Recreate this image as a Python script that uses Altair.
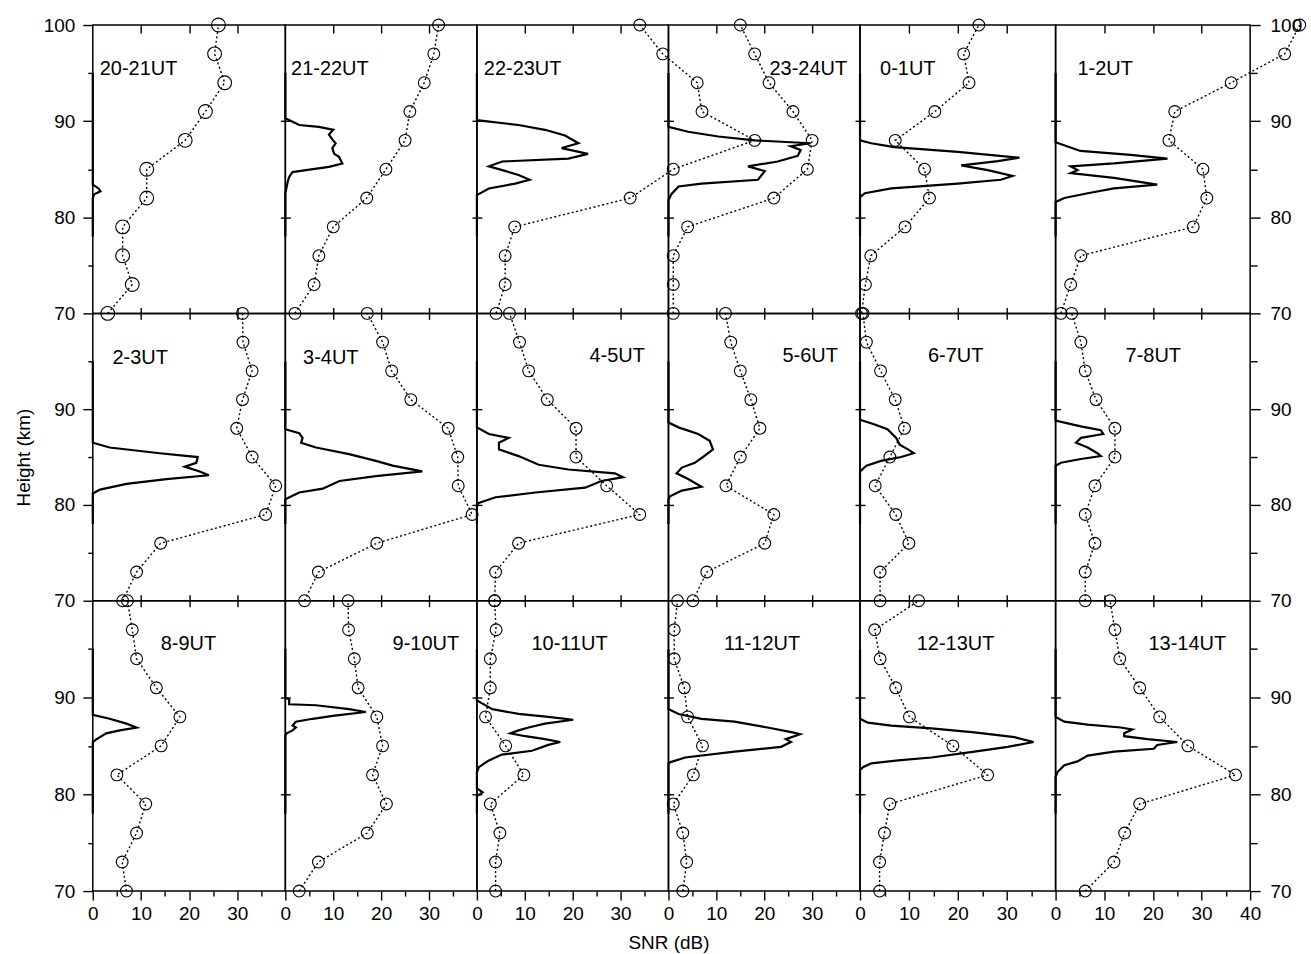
import altair as alt
import pandas as pd

# ---------------- data ----------------
PANELS = ["20-21UT", "21-22UT", "22-23UT", "23-24UT", "0-1UT", "1-2UT",
          "2-3UT", "3-4UT", "4-5UT", "5-6UT", "6-7UT", "7-8UT",
          "8-9UT", "9-10UT", "10-11UT", "11-12UT", "12-13UT", "13-14UT"]

# heights of the circle (dotted) profiles, km
HEIGHTS = [70, 73, 76, 79, 82, 85, 88, 91, 94, 97, 100]

# dotted/circle profiles (value at each height in HEIGHTS)
DOT_20_21 = [3.1, 8.2, 6.2, 6.2, 11.2, 11.2, 19.2, 23.4, 27.4, 25.3, 26.1]
DOT_21_22 = [2.0, 6.0, 7.0, 10.0, 17.0, 21.0, 25.0, 26.0, 29.0, 31.0, 32.0]
DOT_22_23 = [4.0, 5.9, 5.9, 7.9, 32.0, 41.0, 58.0, 47.0, 46.0, 38.8, 34.0]
DOT_23_24 = [1.0, 1.0, 1.0, 4.0, 22.0, 29.0, 30.0, 26.0, 21.0, 18.0, 15.0]
DOT_0_1 = [0.3, 1.1, 2.2, 9.2, 14.2, 13.2, 7.2, 15.3, 22.3, 21.2, 24.3]
DOT_1_2 = [1.1, 3.1, 5.2, 28.3, 31.1, 30.3, 23.3, 24.5, 36.1, 47.1, 50.2]
DOT_2_3 = [6.2, 9.1, 14.1, 35.9, 38.0, 33.1, 29.9, 31.1, 33.1, 31.2, 31.1]
DOT_3_4 = [4.0, 6.9, 19.1, 39.0, 36.1, 36.0, 34.0, 26.2, 22.2, 20.3, 17.1]
DOT_4_5 = [3.7, 3.9, 8.7, 34.0, 27.1, 20.7, 20.7, 14.7, 10.8, 8.9, 6.8]
DOT_5_6 = [5.1, 8.0, 20.1, 22.0, 12.0, 15.0, 19.1, 17.2, 15.0, 13.0, 11.9]
DOT_6_7 = [4.1, 4.1, 10.0, 7.3, 3.1, 6.1, 9.1, 7.2, 4.2, 1.3, 0.6]
DOT_7_8 = [6.1, 6.1, 8.1, 6.1, 8.1, 12.2, 12.2, 8.3, 6.1, 5.2, 3.3]
DOT_8_9 = [7.0, 6.1, 9.1, 11.0, 5.0, 14.2, 18.1, 13.2, 9.1, 8.2, 7.2]
DOT_9_10 = [2.9, 6.9, 17.1, 21.1, 18.2, 20.3, 19.1, 15.2, 14.4, 13.2, 13.1]
DOT_10_11 = [3.9, 3.9, 4.8, 2.8, 9.8, 6.0, 1.8, 2.8, 2.8, 4.0, 3.7]
DOT_11_12 = [3.0, 3.8, 3.0, 1.0, 5.2, 7.1, 4.0, 3.3, 1.2, 1.2, 1.9]
DOT_12_13 = [4.0, 4.0, 5.0, 6.1, 26.1, 19.0, 10.1, 7.3, 4.1, 3.0, 12.0]
DOT_13_14 = [6.1, 12.0, 14.2, 17.3, 37.0, 27.2, 21.4, 17.3, 13.2, 12.2, 11.2]

# solid SNR profiles: (height km, SNR dB)
SNR_20_21 = [(95, 0), (83.4, 0), (83.0, 1.2), (82.7, 1.6), (82.4, 0.3), (82.0, 0), (78, 0)]
SNR_21_22 = [(95, 0), (90.3, 0), (89.6, 2.9), (89.4, 7), (89.1, 10), (88.6, 9.1), (88.1, 9.8),
             (87.7, 10.5), (87.2, 9.8), (86.6, 10.2), (86.3, 11.2), (85.6, 11.9), (85.25, 9.1),
             (84.9, 4.3), (84.7, 1.5), (84.2, 0.8), (83.7, 0.5), (83.0, 0.2), (82.5, 0), (78, 0)]
SNR_22_23 = [(95, 0), (90.1, 0), (89.6, 8.7), (89.1, 14.2), (88.5, 18.4), (87.7, 21.2), (87.2, 17.7),
             (86.6, 23.2), (86.1, 19.1), (85.8, 5.3), (85.3, 2.5), (84.9, 5.3), (84.4, 8.7),
             (83.9, 11.0), (83.5, 8.0), (83.0, 2.5), (82.3, 0), (78, 0)]
SNR_23_24 = [(95, 0), (89.4, 0), (88.9, 4.1), (88.4, 10.4), (88.0, 18), (87.7, 29.7), (87.4, 25.5),
             (87.0, 27.6), (86.4, 27), (85.8, 22.8), (85.3, 16.6), (84.8, 20.1), (83.9, 18.7),
             (83.5, 6.9), (83.2, 2.1), (82.4, 0.6), (81.8, 0), (78, 0)]
SNR_0_1 = [(95, 0), (88.0, 0), (87.7, 2.3), (87.3, 7.0), (86.8, 20), (86.2, 32.6), (85.85, 28.2),
           (85.4, 20.7), (84.9, 26.1), (84.3, 31.2), (83.9, 28.8), (83.5, 20), (83.0, 6.4),
           (82.5, 1), (82.1, 0), (78, 0)]
SNR_1_2 = [(95, 0), (87.8, 0), (86.9, 5.1), (86.5, 15.4), (86.1, 23), (85.6, 12), (85.3, 3.1),
           (84.9, 4.5), (84.6, 3.1), (84.1, 12), (83.4, 20.9), (83.0, 12), (82.5, 6.6), (82.0, 1.8),
           (81.6, 0), (78, 0)]
SNR_2_3 = [(95, 0), (86.5, 0), (86.0, 3.5), (85.4, 13.9), (85.0, 21.8), (84.4, 21.5), (84.0, 19.1),
           (83.5, 22.2), (83.1, 24.1), (82.7, 15.3), (82.2, 7), (81.6, 1.5), (81.2, 0), (78, 0)]
SNR_3_4 = [(95, 0), (87.9, 0), (87.5, 2.9), (87.0, 3.6), (86.5, 3.3), (86.0, 6.4), (85.3, 13.3),
           (84.6, 18.9), (84.1, 22.4), (83.5, 28.6), (83.0, 18.9), (82.5, 11.3), (81.7, 7.8),
           (81.3, 2.9), (80.6, 0), (78, 0)]
SNR_4_5 = [(95, 0), (88.1, 0), (87.4, 2.5), (87.0, 6.6), (86.5, 4.6), (85.8, 4.6), (85.1, 8.7),
           (84.2, 12.9), (83.7, 19.1), (83.3, 28.8), (82.9, 30.5), (82.5, 26), (81.8, 22.6),
           (81.3, 12.2), (80.8, 3.9), (80.2, 0.4), (80.0, 0), (78, 0)]
SNR_5_6 = [(95, 0), (88.6, 0), (88.1, 2.1), (87.4, 6.2), (86.7, 8.6), (85.8, 9.3), (84.9, 6.9),
           (84.4, 5.5), (83.9, 2.8), (83.3, 1.7), (82.7, 4.1), (81.9, 6.9), (81.5, 2.8),
           (80.9, 0.3), (80.6, 0), (78, 0)]
SNR_6_7 = [(95, 0), (88.9, 0), (88.4, 3), (87.9, 5.6), (87.0, 7.4), (86.3, 8.1), (85.8, 9.8),
           (85.4, 11), (85.0, 8.4), (84.6, 4.3), (84.1, 1.3), (83.5, 0), (78, 0)]
SNR_7_8 = [(95, 0), (88.8, 0), (88.2, 5.2), (87.8, 9.3), (87.4, 9.8), (87.0, 5.2), (86.5, 4.2),
           (86.0, 6.6), (85.4, 8.6), (85.1, 9.3), (84.8, 5.2), (84.4, 1.1), (84.1, 0), (78, 0)]
SNR_8_9 = [(95, 0), (88.2, 0), (87.8, 3.5), (87.3, 7), (86.9, 9.1), (86.6, 5.6), (86.3, 2.8),
           (85.7, 0.8), (85.4, 0), (78, 0)]
SNR_9_10 = [(95, 0), (90.0, 0), (89.8, 0.8), (89.3, 0.8), (89.2, 6.4), (88.8, 13.3), (88.5, 16.8),
            (88.1, 9.9), (87.8, 5.7), (87.5, 2.2), (87.1, 1.5), (86.9, 2.2), (86.6, 1.5),
            (86.3, 0.3), (86.1, 0), (78, 0)]
SNR_10_11 = [(95, 0), (89.7, 0), (88.8, 3.2), (88.3, 8.7), (88.0, 14.9), (87.7, 20.1), (87.3, 14.2),
             (86.9, 10.8), (86.6, 8.7), (86.3, 7), (86.0, 10.1), (85.7, 14.2), (85.4, 17.4),
             (85.1, 14.9), (84.5, 11.5), (84.1, 5.2), (83.5, 2.5), (82.8, 0.4), (82.3, 0),
             (80.6, 0), (80.2, 1.2), (79.8, 0), (78, 0)]
SNR_11_12 = [(95, 0), (88.8, 0), (88.3, 2.1), (87.8, 6.9), (87.5, 13.8), (86.9, 20.7), (86.4, 25.9),
             (86.2, 27.5), (85.7, 24.5), (85.4, 25.6), (84.9, 23.5), (84.4, 13.8), (83.8, 3.5),
             (83.3, 0.3), (83.2, 0), (78, 0)]
SNR_12_13 = [(95, 0), (87.8, 0), (87.4, 1.6), (87.1, 6.4), (86.8, 14.6), (86.4, 23.4), (85.9, 31.6),
             (85.4, 35.5), (84.9, 30.2), (84.4, 23.4), (83.8, 14.6), (83.5, 7.8), (83.2, 2.3),
             (82.8, 0.6), (82.5, 0), (78, 0)]
SNR_13_14 = [(95, 0), (88.0, 0), (87.5, 1.8), (87.2, 6.6), (86.9, 13.4), (86.7, 15.8), (86.3, 14.1),
             (86.0, 14.1), (85.7, 18.9), (85.4, 25), (85.1, 20.9), (84.7, 20.2), (84.4, 12),
             (84.0, 6.6), (83.4, 4.5), (83.0, 1.8), (82.3, 0.4), (81.8, 0), (78, 0)]

DOTS = [DOT_20_21, DOT_21_22, DOT_22_23, DOT_23_24, DOT_0_1, DOT_1_2,
        DOT_2_3, DOT_3_4, DOT_4_5, DOT_5_6, DOT_6_7, DOT_7_8,
        DOT_8_9, DOT_9_10, DOT_10_11, DOT_11_12, DOT_12_13, DOT_13_14]
SNRS = [SNR_20_21, SNR_21_22, SNR_22_23, SNR_23_24, SNR_0_1, SNR_1_2,
        SNR_2_3, SNR_3_4, SNR_4_5, SNR_5_6, SNR_6_7, SNR_7_8,
        SNR_8_9, SNR_9_10, SNR_10_11, SNR_11_12, SNR_12_13, SNR_13_14]

# panel label anchors (data units: SNR, km)
LABEL_X = [1.45, 1.2, 1.45, 21.1, 4.1, 4.5,
           4.1, 3.7, 23.5, 23.8, 13.9, 14.4,
           14.1, 22.4, 11.4, 11.6, 11.6, 19.1]
LABEL_H = [94.8, 94.8, 94.8, 94.8, 94.8, 94.8,
           94.7, 94.7, 94.9, 94.9, 94.9, 94.9,
           94.9, 94.9, 94.9, 94.9, 94.9, 94.9]

# ---------------- layout ----------------
COL_W = [193, 192, 192, 192, 196, 195]
ROW_H = [289, 288, 291]
FONT = "Liberation Sans"


def panel(i):
    r, c = divmod(i, 6)
    W, H = COL_W[c], ROW_H[r]
    xs = alt.Scale(domain=[0, 40], nice=False, zero=False)
    ys = alt.Scale(domain=[70, 100], nice=False, zero=False)

    prof = pd.DataFrame(SNRS[i], columns=["h", "v"])
    dots = pd.DataFrame({"h": HEIGHTS, "v": DOTS[i]})
    lab = pd.DataFrame({"v": [LABEL_X[i]], "h": [LABEL_H[i]], "t": [PANELS[i]]})

    # ---- axes ----
    if r == 2:
        vals = [0, 10, 20, 30] + ([40] if c == 5 else [])
        kw = dict(orient="bottom", values=vals, tickSize=9, labelPadding=5,
                  labelFlush=False, labelOverlap=False, domain=False, grid=False)
        if c == 2:
            kw.update(titleX=W, titleY=58, titleAlign="center",
                      titleBaseline="alphabetic", titleAngle=0)
        x_major = alt.Axis(**kw)
        x_minor = alt.Axis(orient="bottom", values=[5, 15, 25, 35], tickSize=5,
                           labels=False, domain=False, grid=False)
        x_title = "SNR (dB)" if c == 2 else None
    else:
        x_major = alt.Axis(orient="bottom", values=[10, 20, 30], tickSize=12, offset=-6,
                           labels=False, domain=False, grid=False)
        x_minor = None
        x_title = None
    x_top = None
    if r == 0:
        x_top = alt.Axis(orient="top", values=[10, 20, 30], tickSize=8, offset=-8,
                         labels=False, domain=False, grid=False)

    yvals = [70, 80, 90, 100] if r == 0 else [70, 80, 90]
    if c == 0:
        kw = dict(orient="left", values=yvals, tickSize=10, labelPadding=8,
                  labelFlush=False, labelOverlap=False, domain=False, grid=False)
        if r == 1:
            kw.update(titleX=-63, titleY=H / 2, titleAngle=270, titleAlign="center",
                      titleBaseline="alphabetic")
        y_left = alt.Axis(**kw)
        y_left_minor = alt.Axis(orient="left", values=[75, 85, 95], tickSize=5,
                                labels=False, domain=False, grid=False)
        y_title = "Height (km)" if r == 1 else None
    else:
        y_left = alt.Axis(orient="left", values=[80, 90], tickSize=10, offset=-5,
                          labels=False, domain=False, grid=False)
        y_left_minor = None
        y_title = None
    y_right = None
    y_right_minor = None
    if c == 5:
        y_right = alt.Axis(orient="right", values=yvals, tickSize=10, labelPadding=10,
                           labelFlush=False, labelOverlap=False, domain=False, grid=False)
        y_right_minor = alt.Axis(orient="right", values=[75, 85, 95], tickSize=7,
                                 labels=False, domain=False, grid=False)

    solid = alt.Chart(prof).mark_line(color="black", strokeWidth=2.2).encode(
        x=alt.X("v:Q", scale=xs, axis=x_major, title=x_title),
        y=alt.Y("h:Q", scale=ys, axis=y_left, title=y_title),
        order=alt.Order("h:Q", sort="descending"),
    )
    dotted = alt.Chart(dots).mark_line(color="black", strokeWidth=1.4,
                                       strokeDash=[2, 2.5]).encode(
        x=alt.X("v:Q", scale=xs, axis=x_top, title=None),
        y=alt.Y("h:Q", scale=ys, axis=y_right, title=None),
        order=alt.Order("h:Q"),
    )
    circles = alt.Chart(dots).mark_point(shape="circle", filled=False, color="black",
                                         size=190 if i == 0 else 140,
                                         strokeWidth=1.1, opacity=1).encode(
        x=alt.X("v:Q", scale=xs, axis=x_minor, title=None),
        y=alt.Y("h:Q", scale=ys, axis=y_left_minor, title=None),
    )
    text = alt.Chart(lab).mark_text(align="left", baseline="alphabetic", fontSize=20,
                                    font=FONT, color="black").encode(
        x=alt.X("v:Q", scale=xs, axis=None, title=None),
        y=alt.Y("h:Q", scale=ys, axis=y_right_minor, title=None),
        text="t:N",
    )
    return alt.layer(solid, dotted, circles, text).resolve_axis(
        x="independent", y="independent").properties(width=W, height=H)


charts = [panel(i) for i in range(18)]

chart = alt.concat(*charts, columns=6, spacing=0, bounds="flush").properties(
    padding={"left": 14, "top": 14, "right": 2, "bottom": 2},
    background="white",
).configure_view(
    stroke="black", strokeWidth=1.5
).configure_axis(
    labelFont=FONT, labelFontSize=19, labelColor="black",
    titleFont=FONT, titleFontSize=19, titleFontWeight="normal", titleColor="black",
    tickColor="black", tickWidth=1.4
)

chart.save("out.html", embed_options={"renderer": "svg", "actions": False})
